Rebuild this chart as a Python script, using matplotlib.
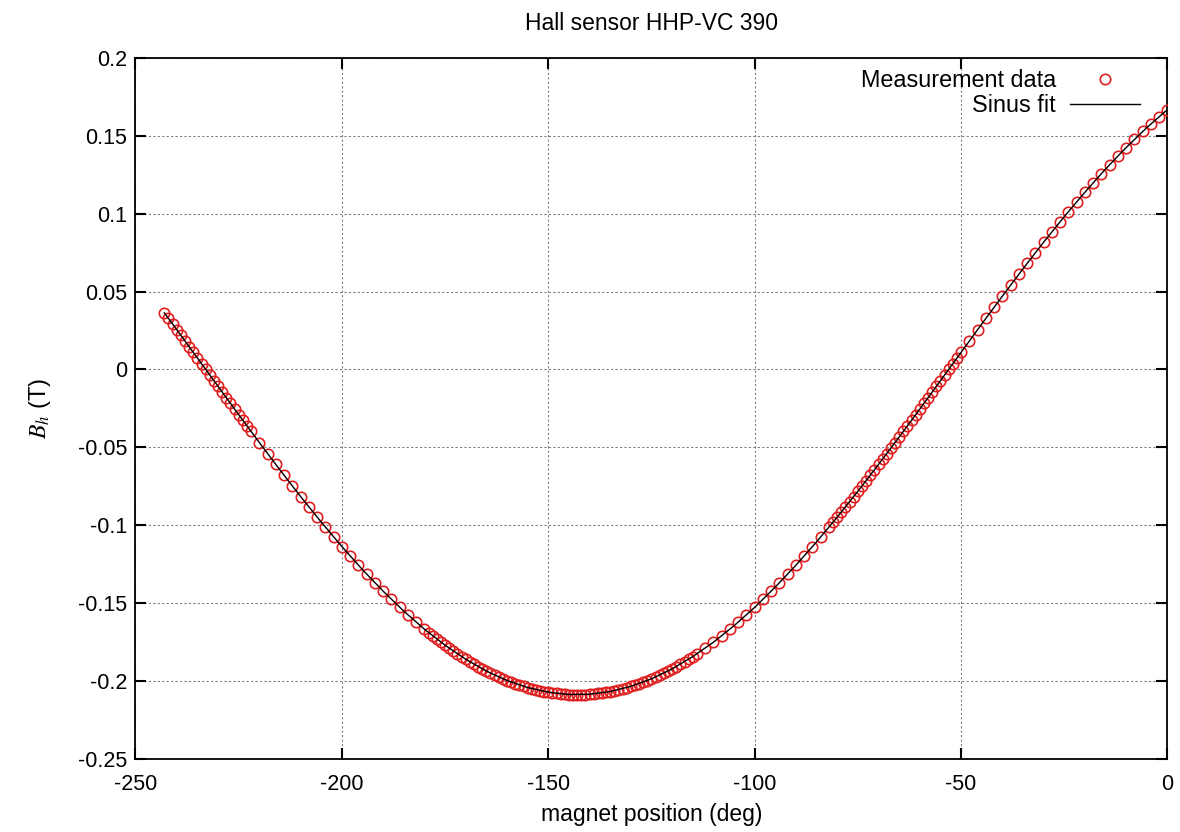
import matplotlib

matplotlib.use("Agg")
import matplotlib.pyplot as plt

# magnet position (deg) and hall field (T)
meas_x = [
    -243, -242, -241, -240, -239, -238, -237, -236, -235, -234, -233,
    -232, -231, -230, -229, -228, -227, -226, -225, -224, -223, -222,
    -220, -218, -216, -214, -212, -210, -208, -206, -204, -202, -200,
    -198, -196, -194, -192, -190, -188, -186, -184, -182, -180,
    -179, -178, -177, -176, -175, -174, -173, -172, -171, -170, -169,
    -168, -167, -166, -165, -164, -163, -162, -161, -160, -159, -158,
    -157, -156, -155, -154, -153, -152, -151, -150, -149, -148, -147,
    -146, -145, -144, -143, -142, -141, -140, -139, -138, -137, -136,
    -135, -134, -133, -132, -131, -130, -129, -128, -127, -126, -125,
    -124, -123, -122, -121, -120, -119, -118, -117, -116, -115, -114,
    -112, -110, -108, -106, -104, -102, -100, -98, -96, -94, -92, -90,
    -88, -86, -84, -82,
    -81, -80, -79, -78, -77, -76, -75, -74, -73, -72, -71, -70, -69,
    -68, -67, -66, -65, -64, -63, -62, -61, -60, -59, -58, -57, -56,
    -55, -54, -53, -52, -51, -50,
    -48, -46, -44, -42, -40, -38, -36, -34, -32, -30, -28, -26, -24,
    -22, -20, -18, -16, -14, -12, -10, -8, -6, -4, -2, 0,
]
meas_b = [
    0.0363, 0.0327, 0.0291, 0.0255, 0.0218, 0.0182, 0.0146, 0.0109, 0.0073, 0.0036, 0.0,
    -0.0036, -0.0073, -0.0109, -0.0146, -0.0182, -0.0218, -0.0255, -0.0291, -0.0327, -0.0363, -0.0399,
    -0.0470, -0.0541, -0.0611, -0.0680, -0.0749, -0.0817, -0.0883, -0.0949, -0.1013, -0.1076, -0.1138,
    -0.1199, -0.1258, -0.1315, -0.1371, -0.1425, -0.1478, -0.1529, -0.1577, -0.1624, -0.1669,
    -0.1691, -0.1712, -0.1733, -0.1753, -0.1772, -0.1792, -0.1810, -0.1828, -0.1845, -0.1862, -0.1879,
    -0.1894, -0.1909, -0.1924, -0.1938, -0.1951, -0.1964, -0.1976, -0.1988, -0.1999, -0.2009, -0.2019,
    -0.2028, -0.2036, -0.2044, -0.2052, -0.2058, -0.2064, -0.2070, -0.2074, -0.2079, -0.2082, -0.2085,
    -0.2087, -0.2089, -0.2090, -0.2090, -0.2090, -0.2089, -0.2087, -0.2085, -0.2082, -0.2079, -0.2074,
    -0.2070, -0.2064, -0.2058, -0.2052, -0.2044, -0.2036, -0.2028, -0.2019, -0.2009, -0.1999, -0.1988,
    -0.1976, -0.1964, -0.1951, -0.1938, -0.1924, -0.1909, -0.1894, -0.1879, -0.1862, -0.1845, -0.1828,
    -0.1792, -0.1753, -0.1712, -0.1669, -0.1624, -0.1577, -0.1529, -0.1478, -0.1425, -0.1371, -0.1315, -0.1258,
    -0.1199, -0.1138, -0.1076, -0.1013,
    -0.0981, -0.0949, -0.0916, -0.0883, -0.0850, -0.0817, -0.0783, -0.0749, -0.0715, -0.0680, -0.0646, -0.0611, -0.0576,
    -0.0541, -0.0506, -0.0470, -0.0435, -0.0399, -0.0363, -0.0327, -0.0291, -0.0255, -0.0218, -0.0182, -0.0146, -0.0109,
    -0.0073, -0.0036, 0.0, 0.0036, 0.0073, 0.0109,
    0.0182, 0.0255, 0.0327, 0.0399, 0.0470, 0.0541, 0.0611, 0.0680, 0.0749, 0.0817, 0.0883, 0.0949, 0.1013,
    0.1076, 0.1138, 0.1199, 0.1258, 0.1315, 0.1371, 0.1425, 0.1478, 0.1529, 0.1577, 0.1624, 0.1669,
]

# sine fit sampled along the drawn curve
fit_x = [
    -243, -240, -235, -230, -225, -220, -215, -210, -205, -200, -195, -190,
    -185, -180, -175, -170, -165, -160, -155, -150, -145, -140, -135, -130,
    -125, -120, -115, -110, -105, -100, -95, -90, -85, -80, -75, -70, -65,
    -60, -55, -50, -45, -40, -35, -30, -25, -20, -15, -10, -5, 0,
]
fit_b = [
    0.0363, 0.0255, 0.0073, -0.0109, -0.0291, -0.0470, -0.0646, -0.0817, -0.0981, -0.1138, -0.1287, -0.1425,
    -0.1553, -0.1669, -0.1772, -0.1862, -0.1938, -0.1999, -0.2044, -0.2074, -0.2089, -0.2087, -0.2070, -0.2036,
    -0.1988, -0.1924, -0.1845, -0.1753, -0.1647, -0.1529, -0.1398, -0.1258, -0.1108, -0.0949, -0.0783, -0.0611, -0.0435,
    -0.0255, -0.0073, 0.0109, 0.0291, 0.0470, 0.0646, 0.0817, 0.0981, 0.1138, 0.1287, 0.1425, 0.1553, 0.1669,
]

x_ticks = [-250, -200, -150, -100, -50, 0]
x_tick_labels = ["-250", "-200", "-150", "-100", "-50", "0"]
y_ticks = [-0.25, -0.2, -0.15, -0.1, -0.05, 0, 0.05, 0.1, 0.15, 0.2]
y_tick_labels = ["-0.25", "-0.2", "-0.15", "-0.1", "-0.05", "0", "0.05", "0.1", "0.15", "0.2"]

plt.rcParams["font.family"] = ["Liberation Sans", "DejaVu Sans"]
plt.rcParams["mathtext.fontset"] = "stix"
plt.rcParams["axes.unicode_minus"] = False

fig = plt.figure(figsize=(11.8, 8.32), dpi=100)
ax = fig.add_axes([0.1148, 0.0883, 0.8746, 0.842])

ax.plot(meas_x, meas_b, linestyle="none", marker="o", markersize=7.5,
        markerfacecolor="none", markeredgecolor="#e02020", markeredgewidth=1.2,
        label="Measurement data", zorder=3)
ax.plot(fit_x, fit_b, color="black", linewidth=1.0, label="Sinus fit", zorder=4)

ax.set_xlim(-250, 0)
ax.set_ylim(-0.25, 0.2)
ax.set_xticks(x_ticks, x_tick_labels)
ax.set_yticks(y_ticks, y_tick_labels)
ax.tick_params(direction="in", length=8, width=1.5, top=True, right=True,
               labelsize=15.5, pad=6)
ax.tick_params(axis="x", pad=11)
for spine in ax.spines.values():
    spine.set_linewidth(1.3)
ax.grid(True, color="#808080", linestyle=(0, (2, 2)), linewidth=0.8)

ax.set_title("Hall sensor HHP-VC 390", fontsize=16.5, pad=20)
ax.set_xlabel("magnet position (deg)", fontsize=16.5, labelpad=6)
ax.set_ylabel(r"$B_h$ (T)", fontsize=17, labelpad=18)

ax.legend(loc="upper right", bbox_to_anchor=(0.9734, 0.984), frameon=False,
          markerfirst=False, fontsize=16.8, handlelength=3.0, handletextpad=0.6,
          borderpad=0, borderaxespad=0, labelspacing=0.08)

fig.savefig("out.png", dpi=100)
